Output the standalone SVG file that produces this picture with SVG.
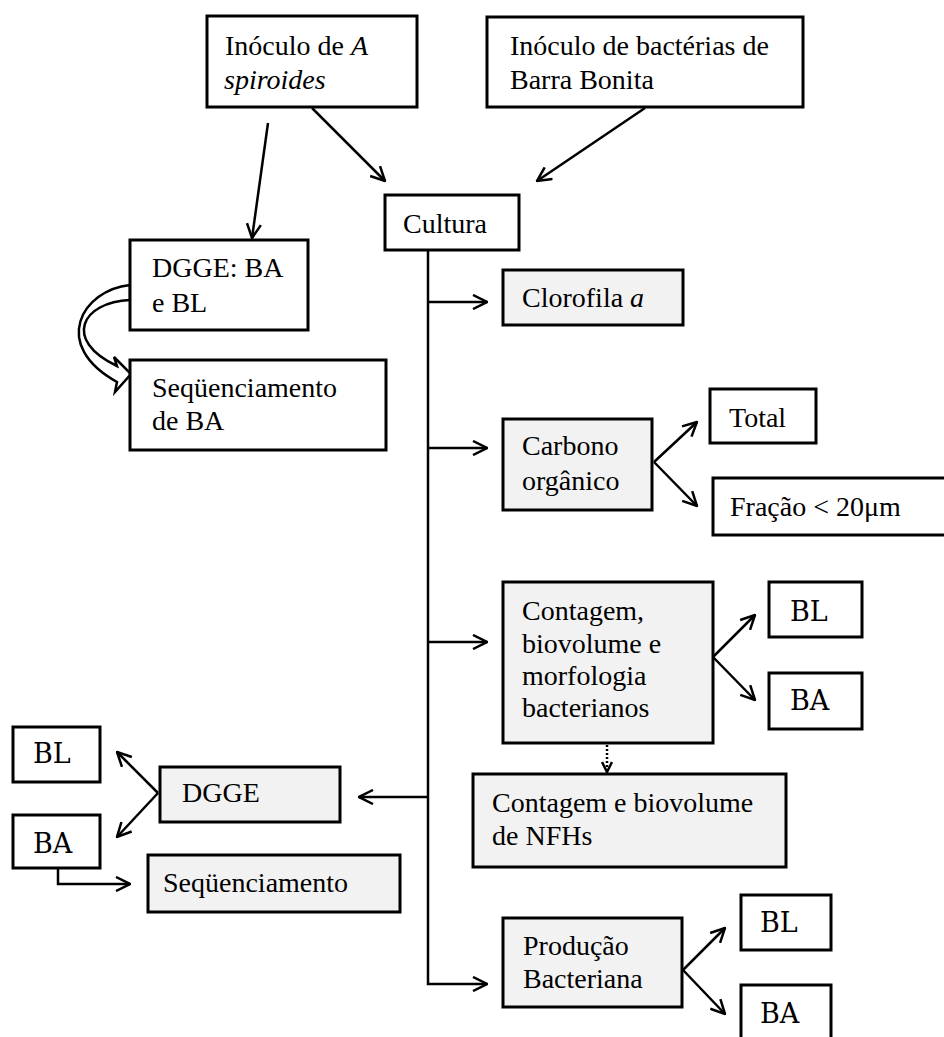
<svg xmlns="http://www.w3.org/2000/svg" width="944" height="1037" viewBox="0 0 944 1037">
<style>
.box{fill:#ffffff;stroke:#000;stroke-width:3}
.g{fill:#f2f2f2;stroke:#000;stroke-width:3}
.t{font-family:"Liberation Serif",serif;font-size:28px;fill:#000}
.m{font-family:"DejaVu Serif",serif;font-size:27px;fill:#000}
.c{fill:none;stroke:#000;stroke-width:2.5}
</style>
<defs>
<marker id="ah" viewBox="0 0 12 12" refX="11" refY="6" markerWidth="12" markerHeight="12" markerUnits="userSpaceOnUse" orient="auto">
<path d="M1,1 L11,6 L1,11" fill="none" stroke="#000" stroke-width="2.5"/>
</marker>
<marker id="ah2" viewBox="0 0 16 16" refX="15" refY="8" markerWidth="16" markerHeight="16" markerUnits="userSpaceOnUse" orient="auto">
<path d="M1,1 L15,8 L1,15" fill="none" stroke="#000" stroke-width="2.5"/>
</marker>
</defs>
<rect width="944" height="1037" fill="#fff"/>
<g id="connectors">
<line class="c" x1="312" y1="108" x2="385" y2="181" marker-end="url(#ah2)"/>
<line class="c" x1="645" y1="108" x2="537" y2="181" marker-end="url(#ah2)"/>
<line class="c" x1="268" y1="123" x2="252" y2="238" marker-end="url(#ah2)"/>
<path d="M130,285 C82,290 50,345 117,382 L115,392 L131,374 L114,357 L117,366 C62,340 82,302 130,300 Z" fill="#fff" stroke="#000" stroke-width="2.5"/>
<path class="c" d="M428,250 V984 H487" marker-end="url(#ah2)"/>
<line class="c" x1="428" y1="302" x2="487" y2="302" marker-end="url(#ah2)"/>
<line class="c" x1="428" y1="448" x2="487" y2="448" marker-end="url(#ah2)"/>
<line class="c" x1="428" y1="642" x2="487" y2="642" marker-end="url(#ah2)"/>
<line class="c" x1="428" y1="797" x2="359" y2="797" marker-end="url(#ah2)"/>
<line class="c" x1="654" y1="462" x2="697" y2="422" marker-end="url(#ah2)"/>
<line class="c" x1="654" y1="462" x2="697" y2="506" marker-end="url(#ah2)"/>
<line class="c" x1="713" y1="657" x2="755" y2="615" marker-end="url(#ah2)"/>
<line class="c" x1="713" y1="657" x2="755" y2="700" marker-end="url(#ah2)"/>
<line class="c" x1="607" y1="745" x2="607" y2="772" stroke-dasharray="2,2" marker-end="url(#ah)"/>
<line class="c" x1="158" y1="793" x2="117" y2="752" marker-end="url(#ah2)"/>
<line class="c" x1="158" y1="793" x2="117" y2="837" marker-end="url(#ah2)"/>
<path class="c" d="M58,868 V884 H130" marker-end="url(#ah2)"/>
<line class="c" x1="683" y1="970" x2="725" y2="928" marker-end="url(#ah2)"/>
<line class="c" x1="683" y1="970" x2="725" y2="1014" marker-end="url(#ah2)"/>
</g>
<g id="n-inoculo-a">
<rect class="box" x="207" y="16" width="210" height="91"/>
<text class="t" x="225" y="55">Inóculo de <tspan font-style="italic">A</tspan></text>
<text class="t" x="224" y="89" font-style="italic">spiroides</text>
</g>
<g id="n-inoculo-b">
<rect class="box" x="487" y="17" width="316" height="90"/>
<text class="t" x="510" y="55">Inóculo de bactérias de</text>
<text class="t" x="510" y="89">Barra Bonita</text>
</g>
<g id="n-cultura">
<rect class="box" x="385" y="195" width="134" height="55"/>
<text class="t" x="403" y="233">Cultura</text>
</g>
<g id="n-dgge-top">
<rect class="box" x="130" y="240" width="178" height="90"/>
<text class="t" x="152" y="277">DGGE: BA</text>
<text class="t" x="152" y="312">e BL</text>
</g>
<g id="n-seq-ba">
<rect class="box" x="130" y="360" width="256" height="90"/>
<text class="t" x="152" y="397">Seqüenciamento</text>
<text class="t" x="152" y="430">de BA</text>
</g>
<g id="n-clorofila">
<rect class="g" x="503" y="270" width="180" height="55"/>
<text class="t" x="522" y="307">Clorofila <tspan font-style="italic">a</tspan></text>
</g>
<g id="n-carbono">
<rect class="g" x="503" y="419" width="149" height="91"/>
<text class="t" x="522" y="455">Carbono</text>
<text class="t" x="522" y="490">orgânico</text>
</g>
<g id="n-total">
<rect class="box" x="710" y="389" width="106" height="54"/>
<text class="t" x="729" y="427">Total</text>
</g>
<g id="n-fracao">
<rect class="box" x="713" y="478" width="240" height="57"/>
<text class="t" x="730" y="516">Fração &lt; 20μm</text>
</g>
<g id="n-contagem">
<rect class="g" x="503" y="582" width="210" height="161"/>
<text class="t" x="522" y="620">Contagem,</text>
<text class="t" x="522" y="653">biovolume e</text>
<text class="t" x="522" y="685">morfologia</text>
<text class="t" x="522" y="717">bacterianos</text>
</g>
<g id="n-bl1">
<rect class="box" x="769" y="582" width="93" height="55"/>
<text class="m" x="790" y="621">BL</text>
</g>
<g id="n-ba1">
<rect class="box" x="769" y="673" width="93" height="56"/>
<text class="m" x="790" y="710">BA</text>
</g>
<g id="n-nfh">
<rect class="g" x="473" y="774" width="313" height="93"/>
<text class="t" x="492" y="812">Contagem e biovolume</text>
<text class="t" x="492" y="845">de NFHs</text>
</g>
<g id="n-dgge">
<rect class="g" x="160" y="767" width="180" height="55"/>
<text class="t" x="182" y="802">DGGE</text>
</g>
<g id="n-bl-left">
<rect class="box" x="13" y="727" width="87" height="55"/>
<text class="m" x="33" y="763">BL</text>
</g>
<g id="n-ba-left">
<rect class="box" x="13" y="815" width="87" height="53"/>
<text class="m" x="33" y="853">BA</text>
</g>
<g id="n-seq">
<rect class="g" x="148" y="855" width="252" height="57"/>
<text class="t" x="163" y="892">Seqüenciamento</text>
</g>
<g id="n-producao">
<rect class="g" x="503" y="918" width="179" height="89"/>
<text class="t" x="523" y="955">Produção</text>
<text class="t" x="523" y="988">Bacteriana</text>
</g>
<g id="n-bl2">
<rect class="box" x="741" y="895" width="90" height="55"/>
<text class="m" x="760" y="932">BL</text>
</g>
<g id="n-ba2">
<rect class="box" x="741" y="985" width="90" height="60"/>
<text class="m" x="760" y="1023">BA</text>
</g>
</svg>
